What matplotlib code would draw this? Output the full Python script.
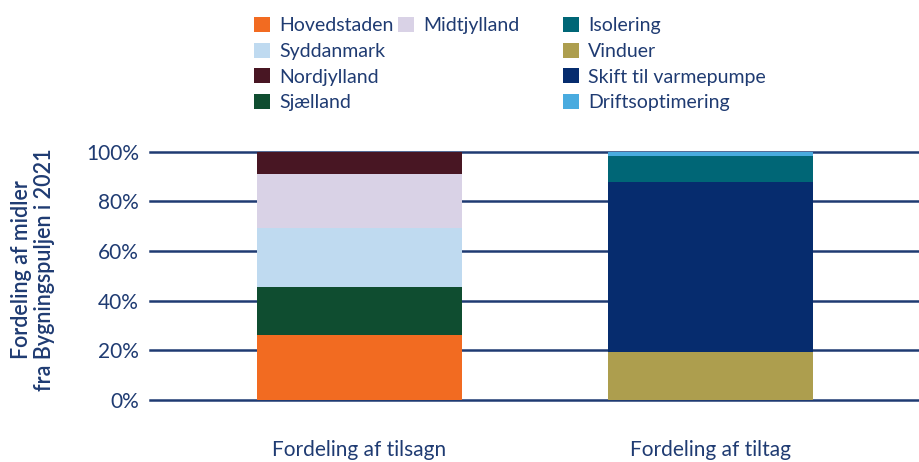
import matplotlib
matplotlib.use("Agg")
import matplotlib.pyplot as plt
from matplotlib.patches import Patch

categories = ["Fordeling af tilsagn", "Fordeling af tiltag"]

# Region shares (left bar), bottom to top
region_names = ["Hovedstaden", "Sjælland", "Syddanmark", "Midtjylland", "Nordjylland"]
region_values = [26.2, 19.4, 23.7, 21.8, 8.9]
region_colors = ["#F26B21", "#0F4D30", "#BFDAF0", "#D9D2E6", "#481623"]

# Measure shares (right bar), bottom to top
measure_names = ["Vinduer", "Skift til varmepumpe", "Isolering", "Driftsoptimering"]
measure_values = [19.4, 68.4, 10.5, 1.7]
measure_colors = ["#AD9E4E", "#062C6E", "#006676", "#49ABDF"]

yticks = [0, 20, 40, 60, 80, 100]
ytick_labels = ["0%", "20%", "40%", "60%", "80%", "100%"]

TXT = "#1F3B72"
GRID = "#1F3B72"
FS = 15
LFS = 14
plt.rcParams["font.family"] = ["Lato", "DejaVu Sans"]

fig = plt.figure(figsize=(9.19, 4.62), dpi=100)
ax = fig.add_axes([150/919, 1-400/462, 1-150/919, (400-151.5)/462])

width = 0.584
bottom = 0
for name, v, c in zip(region_names, region_values, region_colors):
    ax.bar(0, v, width, bottom=bottom, color=c, zorder=3, label=name)
    bottom += v
bottom = 0
for name, v, c in zip(measure_names, measure_values, measure_colors):
    ax.bar(1, v, width, bottom=bottom, color=c, zorder=3, label=name)
    bottom += v

ax.set_xlim(-0.597, 1.594)
ax.set_ylim(0, 100)
for y in yticks:
    ax.axhline(y, color=GRID, lw=1.8, zorder=1, clip_on=False)

ax.set_yticks(yticks)
ax.set_yticklabels(ytick_labels)
ax.set_xticks([0, 1])
ax.set_xticklabels(categories)
ax.tick_params(axis="y", length=0, pad=8, labelsize=FS, labelcolor=TXT)
ax.tick_params(axis="x", length=0, pad=29, labelsize=FS, labelcolor=TXT)
for s in ax.spines.values():
    s.set_visible(False)

fig.text(0.036, 1-270/462, "Fordeling af midler\nfra Bygningspuljen i 2021", rotation=90,
         ha="center", va="center", fontsize=15.5, color=TXT, fontweight="semibold",
         linespacing=1.15)

# Legends
def ph(c):
    return Patch(facecolor=c, edgecolor="none")
cmap = dict(zip(region_names, region_colors))
mmap = dict(zip(measure_names, measure_colors))
col1 = ["Hovedstaden", "Syddanmark", "Nordjylland", "Sjælland"]
col2 = ["Midtjylland"]
col3 = ["Isolering", "Vinduer", "Skift til varmepumpe", "Driftsoptimering"]

bp = 0.4 * LFS / 72 * 100  # borderpad in px
top = 1 - 9.5 / 462
kw = dict(loc="upper left", frameon=False, fontsize=LFS, labelcolor=TXT,
          handlelength=0.8, handleheight=0.8, handletextpad=0.5,
          labelspacing=0.43, borderaxespad=0)
legs = []
for names, cm, xs in [(col1, cmap, 254), (col2, cmap, 398), (col3, mmap, 563)]:
    lg = fig.legend([ph(cm[n]) for n in names], names,
                    bbox_to_anchor=((xs - bp) / 919, top), **kw)
    legs.append(lg)

fig.savefig("out.png", dpi=100)
